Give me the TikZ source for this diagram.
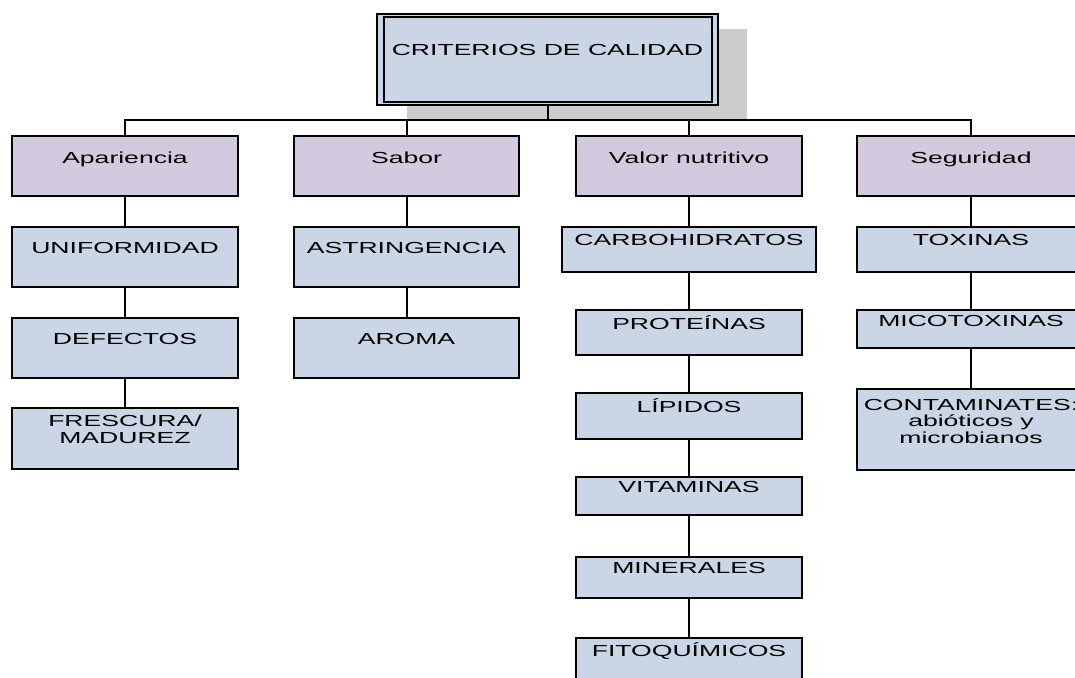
\documentclass[tikz,border=0pt]{standalone}
\usepackage{fontspec}
\newfontfamily\mainf[FakeStretch=1.66]{Liberation Sans}
\usetikzlibrary{calc}
\definecolor{lilac}{HTML}{D4CADF}
\definecolor{pale}{HTML}{CAD6E6}
\definecolor{shadowgray}{HTML}{CCCCCC}
\begin{document}
\begin{tikzpicture}[x=1pt,y=-1pt,
  bx/.style={draw=black, line width=1.8pt, inner sep=0pt, outer sep=0pt},
  lvone/.style={bx, fill=lilac, minimum height=60pt},
  lvtwo/.style={bx, fill=pale},
  lbl/.style={anchor=base, inner sep=0pt, align=center, font=\mainf\fontsize{16}{16.5}\selectfont},
  link/.style={draw=black, line width=2pt}]
\useasboundingbox (0,0) rectangle (1075,677);
\clip (0,0) rectangle (1075,677);
% shadow of the top box
\fill[shadowgray] (407,29) rectangle (747,119);
% top box
\node[bx, fill=pale, minimum width=341pt, minimum height=91pt] (top) at (547.5,59.5) {};
\draw[line width=1.8pt] ($(top.north west)+(7,3)$) rectangle ($(top.south east)+(-6,-3)$);
% connectors
\coordinate (bus) at (547.5,120);
\draw[link] (top.south) -- (bus);
% level one
\node[lvone, minimum width=226pt] (a) at (125,166) {};
\node[lvone, minimum width=225pt] (s) at (406.5,166) {};
\node[lvone, minimum width=226pt] (v) at (689,166) {};
\node[lvone, minimum width=228pt] (g) at (971,166) {};
% Apariencia column
\node[lvtwo, minimum width=226pt, minimum height=60pt] (a1) at (125,257) {};
\node[lvtwo, minimum width=226pt, minimum height=60pt] (a2) at (125,348) {};
\node[lvtwo, minimum width=226pt, minimum height=61pt] (a3) at (125,438.5) {};
% Sabor column
\node[lvtwo, minimum width=225pt, minimum height=60pt] (s1) at (406.5,257) {};
\node[lvtwo, minimum width=225pt, minimum height=60pt] (s2) at (406.5,348) {};
% Valor nutritivo column
\node[lvtwo, minimum width=254pt, minimum height=45pt] (v1) at (689,249.5) {};
\node[lvtwo, minimum width=226pt, minimum height=45pt] (v2) at (689,332.5) {};
\node[lvtwo, minimum width=226pt, minimum height=46pt] (v3) at (689,416) {};
\node[lvtwo, minimum width=226pt, minimum height=38pt] (v4) at (689,496) {};
\node[lvtwo, minimum width=226pt, minimum height=41pt] (v5) at (689,577.5) {};
\node[lvtwo, minimum width=226pt, minimum height=52pt] (v6) at (689,664) {};
% Seguridad column
\node[lvtwo, minimum width=228pt, minimum height=45pt] (g1) at (971,249.5) {};
\node[lvtwo, minimum width=228pt, minimum height=38pt] (g2) at (971,329) {};
\node[lvtwo, minimum width=228pt, minimum height=81pt] (g3) at (971,429.5) {};
% connectors
\draw[link] (a.north) |- (bus);
\draw[link] (s.north) |- (bus);
\draw[link] (v.north) |- (bus);
\draw[link] (g.north) |- (bus);
\draw[link] (a.south) -- (a1.north);
\draw[link] (a1.south) -- (a2.north);
\draw[link] (a2.south) -- (a3.north);
\draw[link] (s.south) -- (s1.north);
\draw[link] (s1.south) -- (s2.north);
\draw[link] (v.south) -- (v1.north);
\draw[link] (v1.south) -- (v2.north);
\draw[link] (v2.south) -- (v3.north);
\draw[link] (v3.south) -- (v4.north);
\draw[link] (v4.south) -- (v5.north);
\draw[link] (v5.south) -- (v6.north);
\draw[link] (g.south) -- (g1.north);
\draw[link] (g1.south) -- (g2.north);
\draw[link] (g2.south) -- (g3.north);
% labels
\node[lbl] (ttop) at ($(top.north)+(0,42)$) {CRITERIOS DE CALIDAD};
\node[lbl] (ta) at ($(a.north)+(0,27)$) {Apariencia};
\node[lbl] (ts) at ($(s.north)+(0,27)$) {Sabor};
\node[lbl] (tv) at ($(v.north)+(0,27)$) {Valor nutritivo};
\node[lbl] (tg) at ($(g.north)+(0,27)$) {Seguridad};
\node[lbl] (ta1) at ($(a1.north)+(0,26)$) {UNIFORMIDAD};
\node[lbl] (ta2) at ($(a2.north)+(0,26)$) {DEFECTOS};
\node[lbl] (ta3) at ($(a3.north)+(0,35)$) {FRESCURA/\\MADUREZ};
\node[lbl] (ts1) at ($(s1.north)+(0,26)$) {ASTRINGENCIA};
\node[lbl] (ts2) at ($(s2.north)+(0,26)$) {AROMA};
\node[lbl] (tv1) at ($(v1.north)+(0,18)$) {CARBOHIDRATOS};
\node[lbl] (tv2) at ($(v2.north)+(0,19)$) {PROTEÍNAS};
\node[lbl] (tv3) at ($(v3.north)+(0,19)$) {LÍPIDOS};
\node[lbl] (tv4) at ($(v4.north)+(0,15)$) {VITAMINAS};
\node[lbl] (tv5) at ($(v5.north)+(0,16)$) {MINERALES};
\node[lbl] (tv6) at ($(v6.north)+(0,18)$) {FITOQUÍMICOS};
\node[lbl] (tg1) at ($(g1.north)+(0,18)$) {TOXINAS};
\node[lbl] (tg2) at ($(g2.north)+(0,16)$) {MICOTOXINAS};
\node[lbl] (tg3) at ($(g3.north)+(0,54)$) {CONTAMINATES:\\abióticos y\\microbianos};
\end{tikzpicture}
\end{document}
